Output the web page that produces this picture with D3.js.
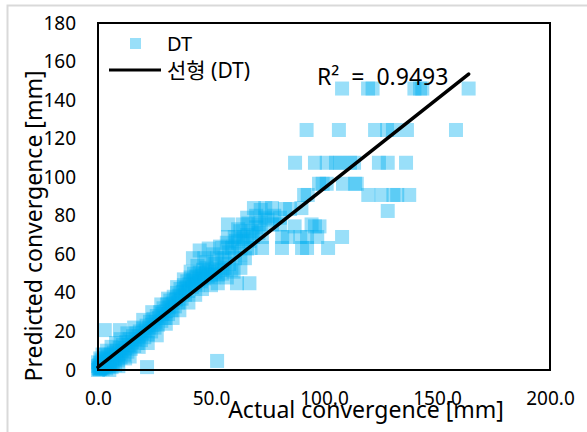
<!DOCTYPE html>
<html>
<head>
<meta charset="utf-8">
<script src="https://cdn.jsdelivr.net/npm/d3@7"></script>
<style>
  body { margin: 0; background: #fff; }
  text { font-family: "Noto Sans", "Noto Sans CJK KR", sans-serif; fill: #000; }
</style>
</head>
<body>
<svg id="chart"></svg>
<script>
// values: [actual, predicted] in mm
const bandPoints = [
  [0,0],[0.3,1],[0.5,2.5],[0.8,0.4],[1,3.5],[1.2,1.2],[1.5,5],[1.8,2],[2,0.6],[2.2,3],[2.5,4.5],[2.8,1.5],
  [3,6],[3.3,2.5],[3.6,0.8],[4,4],[4.3,7],[4.6,2],[5,5.5],[5.3,3],[5.6,8],[6,1.5],[6.3,6],[6.6,4],[7,9],
  [7.3,5.5],[7.6,2.5],[8,7.5],[8.4,10],[8.8,5],[9.2,8.5],[9.6,11.5],[10,6.5],[10.5,10],[11,13],[11.5,8],
  [12,11.5],[12.5,14.5],[13,9.5],[13.5,13],[14,16],[14.5,11],[15,14.5],[15.5,17.5],[16,12.5],[16.5,16],
  [17,19],[17.5,14],[18,17.5],[18.5,20],[19,15.5],[19.5,19],[20,21.5],[20.5,17],[21,20.5],[21.5,23],
  [22,18.5],[22.5,22],[23,25],[23.5,20],[24,23.5],[24.5,26.5],[25,22],[25.5,25],[26,28],[26.5,23.5],
  [27,27],[27.5,30],[28,25.5],[28.5,29],[29,32],[29.5,27],[30,30.5],[30.5,34],[31,29],[31.5,32.5],
  [32,36],[32.5,31],[33,34.5],[33.5,38],[34,33],[34.5,36.5],[35,40],[35.5,35],[36,38.5],[36.5,42],
  [37,37],[37.5,40.5],[38,44],[38.5,39],[39,42.5],[39.5,46],[40,41],[40.5,44.5],[41,48],[41.5,43],
  [42,46.5],[42.5,50],[43,45],[43.5,48.5],[44,44],[44.5,47],[45,50.5],[45.5,46],[46,49],[46.5,52],
  [47,47.5],[47.5,50],[48,53],[48.5,48.5],[49,51],[50,49.5],[50.5,52.5],[51,48],[52,51],[53,49.5],
  [54,52],[55,50],[56,53],
  [0.5,0.5],[1,1],[1.5,1.5],[2,2],[2.5,2.5],[3,3],[0,2],[0,4],[1,6],[3,8],[2,8],[4,10],[6,12],[8,14],
  [5,0],[9,2],[12,6],[14,7],[10,16],[13,19],[16,22],[18,12],[20,26],[22,14],[24,30],[26,18],[28,34],
  [30,24],[31,37],[33,27],[35,43],[36,31],[38,47],[40,35],[41,51],[43,39],[44,54],[46,42],[48,56],
  [50,44],[52,55],[53,45],[55,57],[57,48],[58,55],[59,52]
];
const midPoints = [
  [42,58],[45,62],[47,58],[49,63],[51,60],[52.7,58],[54,64],[55,63.3],[56,58],[57,66],[58,61],[59.3,63.3],
  [60.6,58],[61,67],[63,72],[65,58],[66,63],[60,51],[63,53],[61.5,45],[67,45],
  [57.5,69],[60.5,69],[64.5,69],[68.5,69],[72.5,69],[81.5,69],[84,69],[89.5,69],[92.5,69],[97,69],[108,69],
  [57.5,75.5],[62,73],[64,75.5],[66.5,76],[71,75.5],[77,75.5],[80.5,75.5],[87,74.5],[94.5,75.5],[96,74.5],[98,74.5],
  [66,79],[70,80],[74,79],[80.5,79],
  [69,84],[72,83],[74,84],[77,84],[82.7,83.5],[85,83.5],[90,84],[128.2,82.5],
  [67.5,63.3],[72.6,63.3],[81.4,63.3],[90.3,63.3],[92.5,63.3],[101.8,63.3],
  [60,64],[62,66],[64,68],[66,70],[68,72],[70,74],[72,76],[75,78],[78,80],[63,60],[67,67],[71,71]
];
const upperPoints = [
  [91.2,90.8],[92.8,90.8],[119.6,90.8],[125.5,90.8],[130.7,90.8],[132.4,90.8],[137.7,90.8],
  [97.8,96.6],[99.4,96.6],[101.2,96.6],[108.4,96.6],[113.7,96.6],[114.5,96.6],
  [87.2,107.5],[96,107.5],[101.2,107.5],[105.3,107.5],[107.1,107.5],[111.5,107.5],[113.3,107.5],
  [124.3,107.5],[128.2,107.5],[136.3,107.5],
  [92.3,124.5],[106.6,124.5],[122.6,124.5],[127.9,124.5],[130.5,124.5],[136.7,124.5],[158.4,124.5],
  [108,146],[119.5,146],[121.5,146],[140,146],[142.5,146],[143.5,146],[164,146]
];
const outlierPoints = [[3,20.7],[9.7,20.7],[21.7,1.5],[52.7,4.7]];

const xTicks = [0, 50, 100, 150, 200];
const yTicks = [0, 20, 40, 60, 80, 100, 120, 140, 160, 180];
const trendSlope = 0.927;
const trendIntercept = 1.5;
const r2Label = "R² = 0.9493";

const width = 587, height = 432;
const plotLeft = 98, plotRight = 550, plotTop = 23, plotBottom = 370;

const allPoints = bandPoints.concat(midPoints, upperPoints, outlierPoints);

const svg = d3.select("#chart").attr("width", width).attr("height", height);

// outer chart border
svg.append("rect")
  .attr("x", 7.5).attr("y", 5.5)
  .attr("width", width).attr("height", height)
  .attr("fill", "#fff")
  .attr("stroke", "#d9d9d9")
  .attr("stroke-width", 2);

const x = d3.scaleLinear().domain([0, 200]).range([plotLeft, plotRight]);
const y = d3.scaleLinear().domain([0, 180]).range([plotBottom, plotTop]);

// points
svg.append("g")
  .selectAll("rect")
  .data(allPoints)
  .enter()
  .append("rect")
  .attr("x", (d) => x(d[0]) - 7)
  .attr("y", (d) => y(d[1]) - 7)
  .attr("width", 14)
  .attr("height", 14)
  .attr("fill", "#00b0f0")
  .attr("fill-opacity", 0.4);

// trend line over the data range
const xExt = d3.extent(allPoints, (d) => d[0]);
svg.append("line")
  .attr("x1", x(xExt[0])).attr("y1", y(trendIntercept + trendSlope * xExt[0]))
  .attr("x2", x(xExt[1])).attr("y2", y(trendIntercept + trendSlope * xExt[1]))
  .attr("stroke", "#000")
  .attr("stroke-width", 3.5)
  .attr("stroke-linecap", "round");

// plot frame
svg.append("rect")
  .attr("x", plotLeft).attr("y", plotTop)
  .attr("width", plotRight - plotLeft).attr("height", plotBottom - plotTop)
  .attr("fill", "none")
  .attr("stroke", "#000")
  .attr("stroke-width", 2);

// y tick labels
const yAxis = d3.axisLeft(y).tickValues(yTicks).tickSize(0).tickPadding(22);
svg.append("g")
  .attr("transform", "translate(" + plotLeft + ",0)")
  .call(yAxis)
  .call((g) => g.select(".domain").remove())
  .selectAll("text")
  .style("font-size", "19px")
  .attr("fill", "#000");

// x tick labels
const xAxis = d3.axisBottom(x).tickValues(xTicks).tickSize(0).tickPadding(22).tickFormat(d3.format(".1f"));
svg.append("g")
  .attr("transform", "translate(0," + plotBottom + ")")
  .call(xAxis)
  .call((g) => g.select(".domain").remove())
  .selectAll("text")
  .style("font-size", "19px")
  .attr("fill", "#000");

// axis titles
svg.append("text")
  .attr("x", 366)
  .attr("y", 418)
  .style("text-anchor", "middle")
  .style("font-size", "23px")
  .text("Actual convergence [mm]");

svg.append("text")
  .attr("transform", "translate(42,226) rotate(-90)")
  .style("text-anchor", "middle")
  .style("font-size", "23px")
  .text("Predicted convergence [mm]");

// legend
svg.append("rect")
  .attr("x", 130).attr("y", 38)
  .attr("width", 11).attr("height", 11)
  .attr("fill", "#00b0f0")
  .attr("fill-opacity", 0.4);
svg.append("text")
  .attr("x", 167).attr("y", 51)
  .style("font-size", "20px")
  .text("DT");
svg.append("line")
  .attr("x1", 109).attr("y1", 70)
  .attr("x2", 161).attr("y2", 70)
  .attr("stroke", "#000")
  .attr("stroke-width", 3);
svg.append("text")
  .attr("x", 167).attr("y", 78)
  .style("font-size", "21px")
  .text("선형 (DT)");

// R² label
svg.append("text")
  .attr("x", 317).attr("y", 85)
  .style("font-size", "23px")
  .style("white-space", "pre")
  .text(r2Label.replace(" = ", "  =  "));
</script>
</body>
</html>
